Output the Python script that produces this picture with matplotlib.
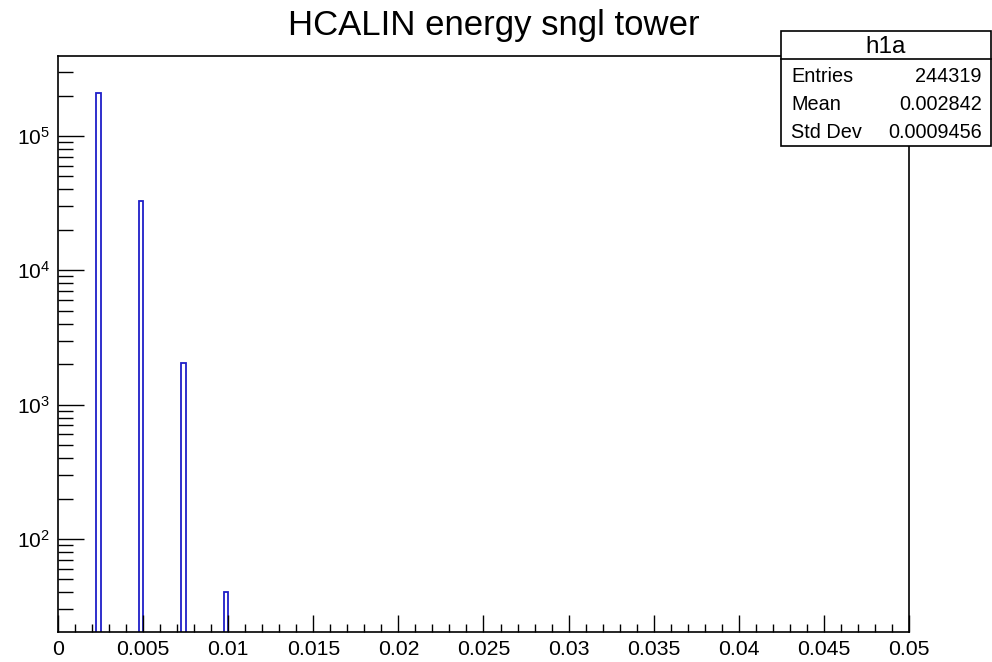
import numpy as np
import matplotlib
matplotlib.use("Agg")
import matplotlib.pyplot as plt
from matplotlib.patches import Rectangle
from matplotlib.ticker import MultipleLocator, FuncFormatter, LogLocator

plt.rcParams['font.family'] = ['Liberation Sans', 'DejaVu Sans']
plt.rcParams['mathtext.fontset'] = 'custom'
plt.rcParams['mathtext.rm'] = 'Liberation Sans'

# Histogramm: 200 Bins von 0 bis 0.05, nur 4 Bins gefuellt
n_bins = 200
x_min, x_max = 0.0, 0.05
filled_bin_low = [0.00225, 0.00475, 0.00725, 0.00975]
filled_counts = [209230, 33000, 2050, 39]

stats_title = "h1a"
stats_names = ["Entries", "Mean", "Std Dev"]
stats_values = ["244319", "0.002842", "0.0009456"]

title = "HCALIN energy sngl tower"

bin_width = (x_max - x_min) / n_bins

W, H = 992, 662
fig = plt.figure(figsize=(W / 100, H / 100), dpi=100)
ax = fig.add_axes([58 / W, (H - 632) / H, (909 - 58) / W, (632 - 56) / H])

ax.bar(filled_bin_low, filled_counts, width=bin_width, align='edge', bottom=1,
       fill=False, edgecolor='#1f1fc8', linewidth=1.3)

ax.set_yscale('log')
ax.set_xlim(x_min, x_max)
ax.set_ylim(20.3, 3.94e5)

ax.xaxis.set_major_locator(MultipleLocator(0.005))
ax.xaxis.set_minor_locator(MultipleLocator(0.001))
ax.xaxis.set_major_formatter(FuncFormatter(lambda v, p: "%g" % round(v, 4)))
ax.yaxis.set_major_locator(LogLocator(base=10, numticks=10))
ax.yaxis.set_minor_locator(LogLocator(base=10, subs=np.arange(2, 10), numticks=20))

ax.tick_params(axis='both', which='both', direction='in', top=False, right=False,
               width=1, color='black')
ax.tick_params(axis='x', which='major', length=12, labelsize=15.3, pad=6)
ax.tick_params(axis='x', which='minor', length=6)
ax.tick_params(axis='y', which='major', length=19, labelsize=15, pad=6)
ax.tick_params(axis='y', which='minor', length=11)
for s in ax.spines.values():
    s.set_linewidth(1.2)

fig.text(494 / W, (H - 35) / H, title, ha='center', va='baseline', fontsize=25)

# Statistik-Box
bx0, bx1, by0, by1 = 781, 991, 31, 146
fig.add_artist(Rectangle((bx0 / W, (H - by1) / H), (bx1 - bx0) / W, (by1 - by0) / H,
                         transform=fig.transFigure, facecolor='white',
                         edgecolor='black', linewidth=1.2, zorder=5))
fig.add_artist(plt.Line2D([bx0 / W, bx1 / W], [(H - 59) / H] * 2,
                          transform=fig.transFigure, color='black', linewidth=1.2, zorder=6))
fig.text((bx0 + bx1) / 2 / W, (H - 53) / H, stats_title, ha='center', va='baseline',
         fontsize=17.5, zorder=7)
for i, (name, val) in enumerate(zip(stats_names, stats_values)):
    yb = (H - (82 + 28 * i)) / H
    fig.text(791 / W, yb, name, ha='left', va='baseline', fontsize=14.3, zorder=7)
    fig.text(982 / W, yb, val, ha='right', va='baseline', fontsize=14.3, zorder=7)

fig.savefig("out.png", dpi=100)
